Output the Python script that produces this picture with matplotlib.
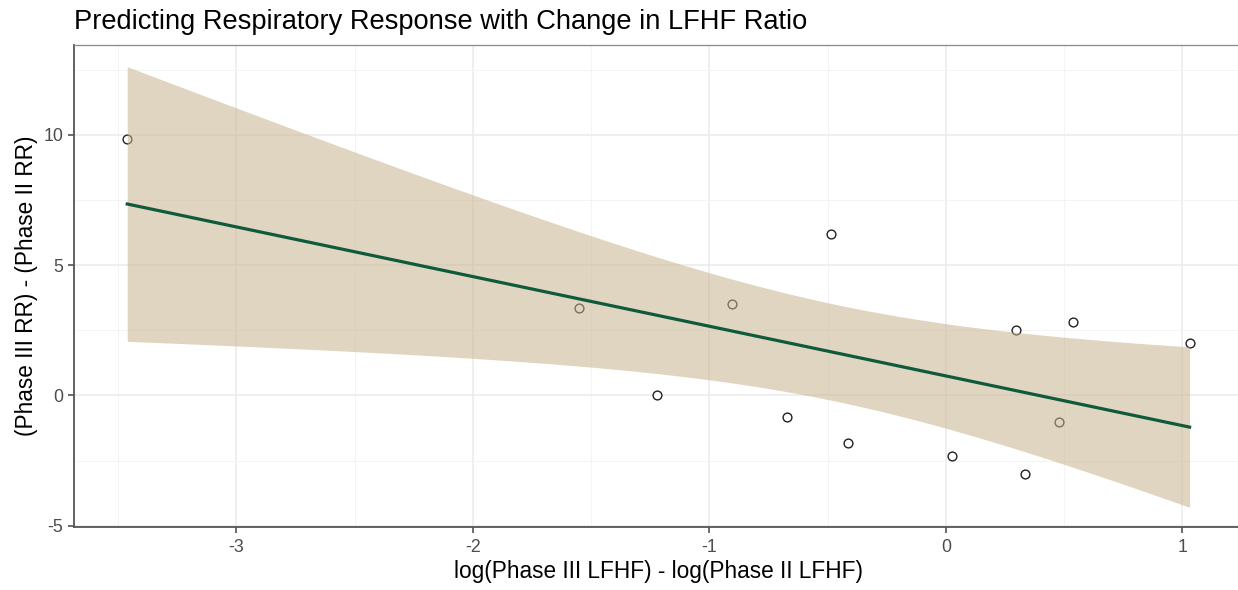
import numpy as np
import matplotlib
matplotlib.use("Agg")
import matplotlib.pyplot as plt

plt.rcParams['font.family'] = ['Liberation Sans', 'DejaVu Sans']

# Data
x_vals = [-3.462, -1.553, -1.222, -0.905, -0.674, -0.488, -0.413,
          0.024, 0.297, 0.332, 0.476, 0.537, 1.030]
y_vals = [9.84, 3.34, 0.00, 3.50, -0.83, 6.18, -1.84,
          -2.33, 2.50, -3.01, -1.01, 2.82, 1.99]
x_ticks = [-3, -2, -1, 0, 1]
y_ticks = [-5, 0, 5, 10]
title = "Predicting Respiratory Response with Change in LFHF Ratio"
x_label = "log(Phase III LFHF) - log(Phase II LFHF)"
y_label = "(Phase III RR) - (Phase II RR)"

x = np.array(x_vals)
y = np.array(y_vals)
n = len(x)
slope, intercept = np.polyfit(x, y, 1)
resid = y - (slope * x + intercept)
s = np.sqrt(np.sum(resid ** 2) / (n - 2))
t_crit = 2.200985  # t(0.975, df=11)
xs = np.linspace(x.min(), x.max(), 200)
fit = slope * xs + intercept
se = s * np.sqrt(1.0 / n + (xs - x.mean()) ** 2 / np.sum((x - x.mean()) ** 2))
lo = fit - t_crit * se
hi = fit + t_crit * se

fig = plt.figure(figsize=(12.38, 5.90), dpi=100)
ax = fig.add_axes([74 / 1238, 1 - 527 / 590, 1168.8 / 1238, 482 / 590])

ax.scatter(x, y, s=40, facecolors='white', edgecolors='#222222', linewidths=1.0, zorder=3)
ax.fill_between(xs, lo, hi, color='#C8B38E', alpha=0.55, linewidth=0, zorder=4)
ax.plot(xs, fit, color='#0E5A3A', linewidth=2.3, zorder=5)

ax.set_xlim(-3.687, 1.255)
ax.set_ylim(-5.05, 13.44)
ax.set_xticks(x_ticks)
ax.set_yticks(y_ticks)
ax.set_xticklabels([str(t) for t in x_ticks])
ax.set_yticklabels([str(t) for t in y_ticks])
ax.set_xticks([-3.5, -2.5, -1.5, -0.5, 0.5], minor=True)
ax.set_yticks([-2.5, 2.5, 7.5, 12.5], minor=True)

ax.grid(which='major', color='#EBEBEB', linewidth=1.1, zorder=0)
ax.grid(which='minor', color='#F3F3F3', linewidth=0.6, zorder=0)
ax.set_axisbelow(True)

ax.tick_params(axis='both', which='major', length=4.3, width=1.1, color='#444444',
               labelcolor='#4D4D4D', labelsize=12.8)
ax.tick_params(axis='x', which='major', pad=4.5)
ax.tick_params(axis='y', which='major', pad=3.5)
ax.tick_params(axis='both', which='minor', length=0)

for side in ['left', 'bottom']:
    ax.spines[side].set_color('#555555')
    ax.spines[side].set_linewidth(1.3)
ax.spines['top'].set_color('#888888')
ax.spines['top'].set_linewidth(0.9)
ax.spines['right'].set_visible(False)

ax.set_xlabel(x_label, fontsize=16.3, color='black', labelpad=3)
ax.set_ylabel(y_label, fontsize=16.3, color='black', labelpad=4)
fig.text(74 / 1238, 1 - 29 / 590, title, fontsize=19.6, color='black', ha='left', va='baseline')

fig.savefig('out.png', dpi=100)
